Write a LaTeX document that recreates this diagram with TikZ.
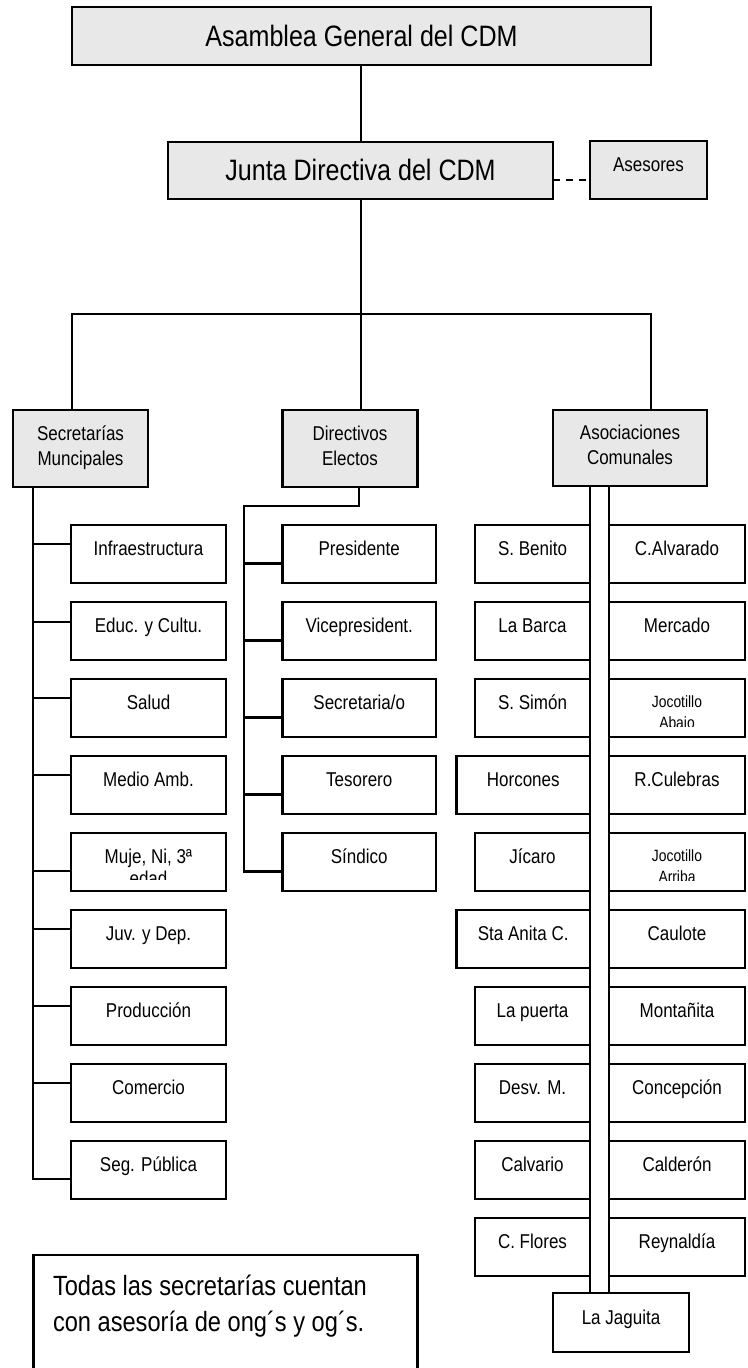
\documentclass[tikz,border=0pt]{standalone}
\usepackage{fontspec}
\setmainfont{Liberation Sans}[FakeStretch=0.85]
\usetikzlibrary{calc}
\definecolor{boxgray}{RGB}{232,232,232}
\newcommand\fBig{\fontsize{29.5pt}{35pt}\selectfont}
\newcommand\fSm{\fontsize{20pt}{25pt}\selectfont}
\newcommand\fClip{\fontsize{20pt}{22pt}\selectfont}
\newcommand\fTiny{\fontsize{16.3pt}{21pt}\selectfont}
\newcommand\fNote{\fontsize{27.8pt}{36pt}\selectfont}
\newcommand\twoline[2]{\begin{tabular}[t]{@{}c@{}}#1\\#2\end{tabular}}
\tikzset{
  ln/.style={line width=2.1pt},
  boxbase/.style={draw, line width=2.1pt, inner sep=0pt, outer sep=0pt},
  bigbox/.style={boxbase, fill=boxgray, font=\fBig, text height=20pt, text depth=0pt},
  smbox/.style={boxbase, fill=white, font=\fSm, minimum height=58pt, text height=12pt, text depth=9pt},
  graysm/.style={smbox, fill=boxgray},
  lvbox/.style={boxbase, fill=boxgray, font=\fSm, minimum height=77pt, text height=10pt, text depth=27pt},
  secbox/.style={smbox, minimum width=155pt},
  dirbox/.style={smbox, minimum width=153.5pt},
  lbox/.style={smbox, minimum width=115pt},
  lwbox/.style={smbox, minimum width=133.5pt},
  rbox/.style={smbox, minimum width=136pt},
  cliptext/.style={inner sep=0pt, outer sep=0pt, anchor=base},
}
\begin{document}
\begin{tikzpicture}[x=1pt,y=-1pt]
\useasboundingbox (0,0) rectangle (747,1368);
\clip (0,0) rectangle (747,1368);

% top levels
\node[bigbox, minimum width=579pt, minimum height=58pt] (asam) at (361.5,36) {Asamblea General del CDM};
\node[bigbox, minimum width=385pt, minimum height=57pt] (jun) at (360.5,170.5) {Junta Directiva del CDM};
\node[graysm, minimum width=117pt] (ase) at (648.5,170) {Asesores};

% second level
\node[lvbox, minimum width=135pt] (sec) at (80.5,448.5) {\twoline{Secretarías}{Muncipales}};
\node[lvbox, minimum width=135pt] (dir) at (350,448.5) {\twoline{Directivos}{Electos}};
\node[lvbox, minimum width=154pt, minimum height=76pt] (asoc) at (630,448) {\twoline{Asociaciones}{Comunales}};

% connectors top
\coordinate (busL) at (72,314);
\coordinate (busM) at (361,314);
\coordinate (busR) at (651,314);
\coordinate (dashy) at (0,180);
\draw[ln] (asam.south -| busM) -- (jun.north -| busM);
\draw[ln] (jun.south -| busM) -- (busM);
\draw[ln] (busL |- sec.north) -- (busL) -- (busR) -- (busR |- asoc.north);
\draw[ln] (busM) -- (busM |- dir.north);
\draw[line width=2.4pt, dash pattern=on 7pt off 6pt] (jun.east |- dashy) -- (ase.west |- dashy);

% Secretarias
\node[secbox] (s1) at (148.5,554) {Infraestructura};
\node[secbox] (s2) at (148.5,631) {Educ. y Cultu.};
\node[secbox] (s3) at (148.5,708) {Salud};
\node[secbox] (s4) at (148.5,785) {Medio Amb.};
\node[secbox] (s5) at (148.5,862) {};
\node[secbox] (s6) at (148.5,939) {Juv. y Dep.};
\node[secbox] (s7) at (148.5,1016) {Producción};
\node[secbox] (s8) at (148.5,1093) {Comercio};
\node[secbox] (s9) at (148.5,1170) {Seg. Pública};
\begin{scope}
\clip (s5.north west) rectangle ($(s5.south east)+(0,-12)$);
\node[cliptext, font=\fClip] (s5t) at ($(s5.center)+(0,1)$) {\twoline{Muje, Ni, 3ª}{edad}};
\end{scope}

\coordinate (sx) at (33,0);
\coordinate (b1) at ($(s1.west)+(0,-10)$);
\coordinate (b2) at ($(s2.west)+(0,-9)$);
\coordinate (b3) at ($(s3.west)+(0,-10)$);
\coordinate (b4) at ($(s4.west)+(0,-10)$);
\coordinate (b5) at ($(s5.west)+(0,9)$);
\coordinate (b6) at ($(s6.west)+(0,-10)$);
\coordinate (b7) at ($(s7.west)+(0,-10)$);
\coordinate (b8) at ($(s8.west)+(0,-10)$);
\coordinate (b9) at ($(s9.west)+(0,9)$);
\draw[ln] (sx |- sec.south) -- (sx |- b9) -- (b9);
\foreach \b in {b1,b2,b3,b4,b5,b6,b7,b8} \draw[ln] (sx |- \b) -- (\b);

% Directivos
\node[dirbox] (d1) at (359.25,554) {Presidente};
\node[dirbox] (d2) at (359.25,631) {Vicepresident.};
\node[dirbox] (d3) at (359.25,708) {Secretaria/o};
\node[dirbox] (d4) at (359.25,785) {Tesorero};
\node[dirbox] (d5) at (359.25,862) {Síndico};
\coordinate (dtop) at (359,506);
\coordinate (dx) at (244,0);
\coordinate (e1) at ($(d1.west)+(0,9.5)$);
\coordinate (e2) at ($(d2.west)+(0,9.5)$);
\coordinate (e3) at ($(d3.west)+(0,9.5)$);
\coordinate (e4) at ($(d4.west)+(0,9.5)$);
\coordinate (e5) at ($(d5.west)+(0,9.5)$);
\draw[ln] (dtop |- dir.south) -- (dtop) -- (dx |- dtop) -- (dx |- e5) -- (e5);
\foreach \e in {e1,e2,e3,e4} \draw[ln] (dx |- \e) -- (\e);

% Asociaciones
\node[lbox]  (a1)  at (532.5,554)  {S. Benito};
\node[lbox]  (a2)  at (532.5,631)  {La Barca};
\node[lbox]  (a3)  at (532.5,708)  {S. Simón};
\node[lwbox] (a4)  at (523.25,785) {Horcones};
\node[lbox]  (a5)  at (532.5,862)  {Jícaro};
\node[lwbox] (a6)  at (523.25,939) {Sta Anita C.};
\node[lbox]  (a7)  at (532.5,1016) {La puerta};
\node[lbox]  (a8)  at (532.5,1093) {Desv. M.};
\node[lbox]  (a9)  at (532.5,1170) {Calvario};
\node[lbox]  (a10) at (532.5,1247) {C. Flores};

\node[rbox] (r1)  at (677,554)  {C.Alvarado};
\node[rbox] (r2)  at (677,631)  {Mercado};
\node[rbox] (r3)  at (677,708)  {};
\node[rbox] (r4)  at (677,785)  {R.Culebras};
\node[rbox] (r5)  at (677,862)  {};
\node[rbox] (r6)  at (677,939)  {Caulote};
\node[rbox] (r7)  at (677,1016) {Montañita};
\node[rbox] (r8)  at (677,1093) {Concepción};
\node[rbox] (r9)  at (677,1170) {Calderón};
\node[rbox] (r10) at (677,1247) {Reynaldía};
\begin{scope}
\clip (r3.north west) rectangle ($(r3.south east)+(0,-11)$);
\node[cliptext, font=\fTiny] (r3t) at ($(r3.center)+(0,-0.5)$) {\twoline{Jocotillo}{Abajo}};
\end{scope}
\begin{scope}
\clip (r5.north west) rectangle ($(r5.south east)+(0,-11)$);
\node[cliptext, font=\fTiny] (r5t) at ($(r5.center)+(0,-0.5)$) {\twoline{Jocotillo}{Arriba}};
\end{scope}

\node[smbox, minimum width=135.5pt, minimum height=59pt] (jag) at (621,1322.5) {La Jaguita};

\coordinate (al) at (590,0);
\coordinate (ar) at (609,0);
\draw[ln] (al |- asoc.south) -- (al |- jag.north);
\draw[ln] (ar |- asoc.south) -- (ar |- jag.north);

% note
\node[boxbase, anchor=north west, minimum width=384pt, minimum height=140pt] (note) at (33.5,1255) {};
\node[inner sep=0pt, outer sep=0pt, anchor=base west, font=\fNote] (notet) at (53,1295)
  {\begin{tabular}[t]{@{}l@{}}Todas las secretarías cuentan\\con asesoría de ong´s y og´s.\end{tabular}};
\end{tikzpicture}
\end{document}
